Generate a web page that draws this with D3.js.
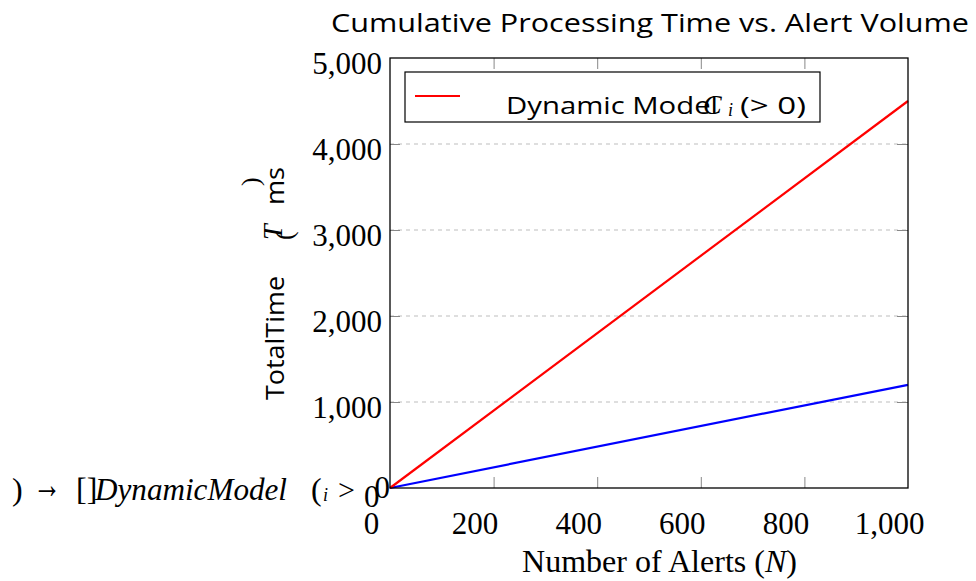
<!DOCTYPE html>
<html>
<head>
  <meta charset="utf-8">
  <title>Cumulative Processing Time vs. Alert Volume</title>
  <style>
    body { margin: 0; background: #fff; }
    svg { display: block; }
    .serif { font-family: "Liberation Serif", "Times New Roman", serif; }
    .sans { font-family: "Open Sans", "Noto Sans", sans-serif; }
  </style>
  <script src="https://cdn.jsdelivr.net/npm/d3@7"></script>
</head>
<body>
<svg id="chart" width="976" height="581"></svg>
<script>

// data
var alerts = [0, 1000];
var dynamicTime = [0, 4500];   // red, "Dynamic Model"
var staticTime = [0, 1200];    // blue, no legend entry
var xTicks = [0, 200, 400, 600, 800, 1000];
var yTicks = [0, 1000, 2000, 3000, 4000, 5000];

var width = 976, height = 581;
var plotL = 390, plotR = 908, plotT = 58, plotB = 488;

var svg = d3.select("#chart");

var x = d3.scaleLinear().domain([0, 1000]).range([plotL, plotR]);
var y = d3.scaleLinear().domain([0, 5000]).range([plotB, plotT]);
var fmt = d3.format(",");

// horizontal dashed grid
svg.append("g")
  .selectAll("line")
  .data(yTicks.filter(function(d) { return d > 0 && d < 5000; }))
  .enter().append("line")
  .attr("x1", plotL).attr("x2", plotR)
  .attr("y1", function(d) { return y(d); })
  .attr("y2", function(d) { return y(d); })
  .attr("stroke", "#bdbdbd")
  .attr("stroke-width", 1)
  .attr("stroke-dasharray", "4,4");

// inward tick marks, bottom/top/left/right
var tickColor = "#888";
function plainTicks(g) {
  g.select(".domain").remove();
  g.selectAll("line").attr("stroke", tickColor);
}
svg.append("g").attr("transform", "translate(0," + plotB + ")")
  .call(d3.axisTop(x).tickValues(xTicks.slice(1, -1)).tickSize(11).tickFormat(""))
  .call(plainTicks);
svg.append("g").attr("transform", "translate(0," + plotT + ")")
  .call(d3.axisBottom(x).tickValues(xTicks.slice(1, -1)).tickSize(11).tickFormat(""))
  .call(plainTicks);
svg.append("g").attr("transform", "translate(" + plotL + ",0)")
  .call(d3.axisRight(y).tickValues(yTicks.slice(1, -1)).tickSize(10).tickFormat(""))
  .call(plainTicks);
svg.append("g").attr("transform", "translate(" + plotR + ",0)")
  .call(d3.axisLeft(y).tickValues(yTicks.slice(1, -1)).tickSize(11).tickFormat(""))
  .call(plainTicks);

// x tick labels (sit a bit left of their ticks)
svg.append("g").attr("transform", "translate(0," + plotB + ")")
  .call(d3.axisBottom(x).tickValues(xTicks).tickSize(0).tickPadding(0).tickFormat(fmt))
  .call(function(g) {
    g.select(".domain").remove();
    g.attr("font-family", null).attr("font-size", null);
    g.selectAll("text")
      .attr("class", "serif")
      .attr("font-size", 31)
      .attr("fill", "#000")
      .attr("dy", null)
      .attr("y", 46)
      .attr("x", -19);
  });

// y tick labels
svg.append("g").attr("transform", "translate(" + plotL + ",0)")
  .call(d3.axisLeft(y).tickValues(yTicks).tickSize(0).tickPadding(0).tickFormat(fmt))
  .call(function(g) {
    g.select(".domain").remove();
    g.attr("font-family", null).attr("font-size", null);
    g.selectAll("text")
      .attr("class", "serif")
      .attr("font-size", 31)
      .attr("fill", "#000")
      .attr("dy", null)
      .attr("y", function(d) { return d === 0 ? 9 : 15; })
      .attr("x", function(d) { return d === 0 ? 0 : -8; });
  });

// lines
var line = d3.line()
  .x(function(d, i) { return x(alerts[i]); })
  .y(function(d) { return y(d); });

svg.append("path").datum(staticTime)
  .attr("d", line).attr("fill", "none")
  .attr("stroke", "#0000ff").attr("stroke-width", 2.2);
svg.append("path").datum(dynamicTime)
  .attr("d", line).attr("fill", "none")
  .attr("stroke", "#ff0000").attr("stroke-width", 2.2);

// frame
svg.append("rect")
  .attr("x", plotL).attr("y", plotT)
  .attr("width", plotR - plotL).attr("height", plotB - plotT)
  .attr("fill", "none").attr("stroke", "#000").attr("stroke-width", 1.3);

// legend
var lg = svg.append("g");
lg.append("rect")
  .attr("x", 405).attr("y", 72).attr("width", 415).attr("height", 50)
  .attr("fill", "#fff").attr("stroke", "#000").attr("stroke-width", 1.2);
lg.append("line")
  .attr("x1", 415).attr("x2", 460).attr("y1", 96).attr("y2", 96)
  .attr("stroke", "#ff0000").attr("stroke-width", 2);
lg.append("text").attr("class", "sans")
  .attr("x", 506).attr("y", 114).attr("font-size", 24)
  .attr("textLength", 212).attr("lengthAdjust", "spacingAndGlyphs")
  .text("Dynamic Model");
lg.append("text").attr("class", "serif")
  .attr("x", 703).attr("y", 114).attr("font-size", 28).attr("font-style", "italic")
  .text("C");
lg.append("text").attr("class", "serif")
  .attr("x", 728).attr("y", 116).attr("font-size", 18).attr("font-style", "italic")
  .text("i");
lg.append("text").attr("class", "sans")
  .attr("x", 740).attr("y", 114).attr("font-size", 24)
  .attr("textLength", 66).attr("lengthAdjust", "spacingAndGlyphs")
  .text("(>  0)");

// title
svg.append("text").attr("class", "sans")
  .attr("x", 331).attr("y", 32).attr("font-size", 26)
  .attr("textLength", 638).attr("lengthAdjust", "spacingAndGlyphs")
  .text("Cumulative Processing Time vs.  Alert Volume");

// x axis label
var xl = svg.append("text").attr("class", "serif")
  .attr("x", 522).attr("y", 572).attr("font-size", 31)
  .attr("textLength", 275).attr("lengthAdjust", "spacingAndGlyphs");
xl.append("tspan").text("Number of Alerts (");
xl.append("tspan").attr("font-style", "italic").text("N");
xl.append("tspan").text(")");

// y axis label, broken into pieces
function rot(px, py) { return "translate(" + px + "," + py + ") rotate(-90)"; }
svg.append("text").attr("class", "sans")
  .attr("transform", rot(284, 400)).attr("font-size", 25)
  .attr("textLength", 124).attr("lengthAdjust", "spacingAndGlyphs")
  .text("TotalTime");
svg.append("text").attr("class", "serif")
  .attr("transform", rot(282, 240)).attr("font-size", 28).attr("font-style", "italic")
  .text("T");
svg.append("text").attr("class", "serif")
  .attr("transform", rot(293, 240)).attr("font-size", 26)
  .text("(");
svg.append("text").attr("class", "sans")
  .attr("transform", rot(284, 205)).attr("font-size", 25)
  .attr("textLength", 38).attr("lengthAdjust", "spacingAndGlyphs")
  .text("ms");
svg.append("text").attr("class", "serif")
  .attr("transform", rot(259, 186)).attr("font-size", 26)
  .text(")");

// stray math text at the lower left
svg.append("text").attr("class", "serif")
  .attr("x", 12).attr("y", 500).attr("font-size", 32).text(")");
svg.append("text").attr("class", "serif")
  .attr("x", 33).attr("y", 498).attr("font-size", 40)
  .attr("textLength", 28).attr("lengthAdjust", "spacingAndGlyphs").text("\u2192");
svg.append("text").attr("class", "serif")
  .attr("x", 76).attr("y", 500).attr("font-size", 32).text("[]");
svg.append("text").attr("class", "serif")
  .attr("x", 95).attr("y", 500).attr("font-size", 32).attr("font-style", "italic")
  .attr("textLength", 192).attr("lengthAdjust", "spacingAndGlyphs")
  .text("DynamicModel");
svg.append("text").attr("class", "serif")
  .attr("x", 311).attr("y", 500).attr("font-size", 32).text("(");
svg.append("text").attr("class", "serif")
  .attr("x", 323).attr("y", 501).attr("font-size", 18).attr("font-style", "italic").text("i");
svg.append("text").attr("class", "serif")
  .attr("x", 338).attr("y", 500).attr("font-size", 30).text(">");
svg.append("text").attr("class", "serif")
  .attr("x", 364).attr("y", 507).attr("font-size", 31).text("0");

</script>
</body>
</html>
